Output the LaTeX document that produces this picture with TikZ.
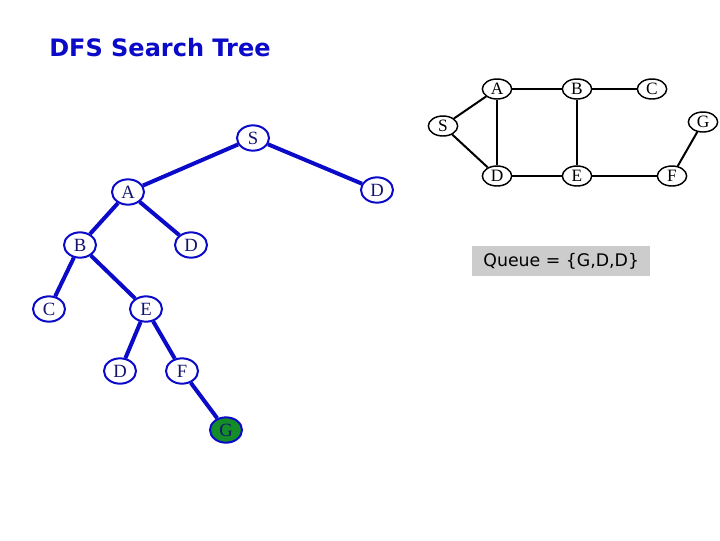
\documentclass[tikz,border=0pt]{standalone}
\usepackage{fontspec}
\setmainfont{Liberation Serif}
\newfontfamily\vsans{DejaVu Sans}
\usetikzlibrary{shapes.geometric}
\definecolor{tblue}{RGB}{10,10,200}
\definecolor{ttext}{RGB}{20,20,110}
\definecolor{gfill}{RGB}{20,140,40}
\definecolor{qgray}{RGB}{204,204,204}
\tikzset{
  tnode/.style={ellipse, draw=tblue, line width=1.5pt, fill=white, text=ttext,
    minimum width=24pt, minimum height=19pt, inner sep=0pt, font=\fontsize{14}{14}\selectfont},
  gnode/.style={ellipse, draw=black, line width=1.1pt, fill=white,
    minimum width=22pt, minimum height=15pt, inner sep=0pt, font=\fontsize{13}{13}\selectfont},
  tedge/.style={draw=tblue, line width=3pt},
  gedge/.style={draw=black, line width=1.5pt}
}
\begin{document}
\begin{tikzpicture}[x=0.75pt,y=-0.75pt]
\useasboundingbox (0,0) rectangle (720,540);
\node[anchor=west, inner sep=0pt, text=tblue, font=\vsans\bfseries\fontsize{18}{18}\selectfont] (title) at (49,48) {DFS Search Tree};
% tree
\node[tnode] (tS) at (253,138) {S};
\node[tnode] (tA) at (128,192) {A};
\node[tnode] (tD1) at (377,190) {D};
\node[tnode] (tB) at (80,245) {B};
\node[tnode] (tD2) at (191,245) {D};
\node[tnode] (tC) at (49,309) {C};
\node[tnode] (tE) at (146,309) {E};
\node[tnode] (tD3) at (120,371) {D};
\node[tnode] (tF) at (182,371) {F};
\node[tnode, fill=gfill] (tG) at (226,430) {G};
\path[tedge] (tS) -- (tA);
\path[tedge] (tS) -- (tD1);
\path[tedge] (tA) -- (tB);
\path[tedge] (tA) -- (tD2);
\path[tedge] (tB) -- (tC);
\path[tedge] (tB) -- (tE);
\path[tedge] (tE) -- (tD3);
\path[tedge] (tE) -- (tF);
\path[tedge] (tF) -- (tG);
% graph
\node[gnode] (gA) at (497,89) {A};
\node[gnode] (gB) at (577,89) {B};
\node[gnode] (gC) at (652,89) {C};
\node[gnode] (gS) at (443,126) {S};
\node[gnode] (gG) at (703,122) {G};
\node[gnode] (gD) at (497,176) {D};
\node[gnode] (gE) at (577,176) {E};
\node[gnode] (gF) at (672,176) {F};
\path[gedge] (gS) -- (gA);
\path[gedge] (gS) -- (gD);
\path[gedge] (gA) -- (gB);
\path[gedge] (gB) -- (gC);
\path[gedge] (gA) -- (gD);
\path[gedge] (gB) -- (gE);
\path[gedge] (gD) -- (gE);
\path[gedge] (gE) -- (gF);
\path[gedge] (gF) -- (gG);
% queue
\node[fill=qgray, minimum width=133.5pt, minimum height=22pt, inner sep=0pt, anchor=west,
  font=\vsans\fontsize{13}{13}\selectfont] (queue) at (472,261) {Queue = \{G,D,D\}};
\end{tikzpicture}
\end{document}
